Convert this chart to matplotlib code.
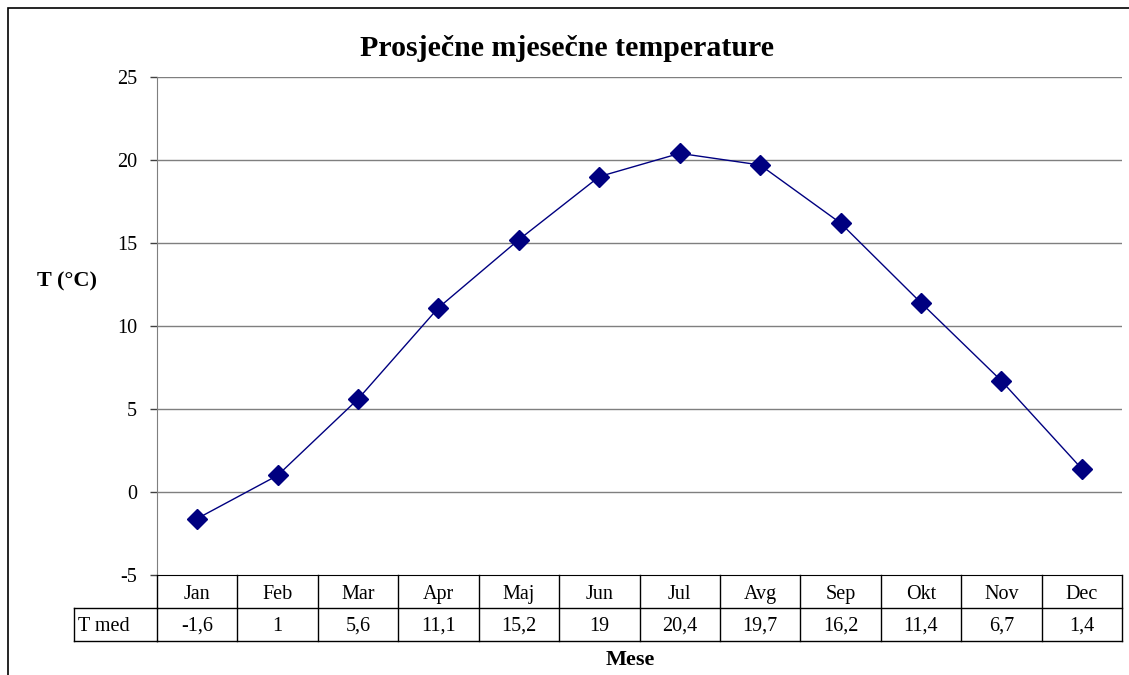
import matplotlib
matplotlib.use('Agg')
import matplotlib.pyplot as plt
from matplotlib.patches import Rectangle
from matplotlib.transforms import blended_transform_factory

months = ['Jan', 'Feb', 'Mar', 'Apr', 'Maj', 'Jun', 'Jul', 'Avg', 'Sep', 'Okt', 'Nov', 'Dec']
t_med = [-1.6, 1, 5.6, 11.1, 15.2, 19, 20.4, 19.7, 16.2, 11.4, 6.7, 1.4]
y_ticks = [-5, 0, 5, 10, 15, 20, 25]

plt.rcParams['font.family'] = ['Liberation Serif', 'DejaVu Serif']

W, H = 1129, 675
fig = plt.figure(figsize=(W / 100, H / 100), dpi=100)

# outer chart frame (only top and left edges are visible in the picture)
fig.patches.append(Rectangle((8 / W, -0.1), 1.2, 1.1 - 8 / H, transform=fig.transFigure,
                             fill=False, edgecolor='black', linewidth=1.2))

left, right, top, bottom = 157, 1122, 77, 575
ax = fig.add_axes([left / W, 1 - bottom / H, (right - left) / W, (bottom - top) / H])

x = list(range(len(months)))
ax.plot(x, t_med, color='#000080', linewidth=1, marker='D', markersize=10.5,
        markerfacecolor='#000080', markeredgecolor='#000080', zorder=3)

ax.set_xlim(-0.5, len(months) - 0.5)
ax.set_ylim(-5, 25)
ax.set_yticks(y_ticks)
ax.set_yticklabels([str(v) for v in y_ticks], fontsize=14.5)
ax.set_xticks([])
ax.tick_params(axis='y', length=5, width=1, color='#404040', pad=9.5)
for v in y_ticks[1:]:
    ax.axhline(v, color='#7f7f7f', linewidth=1, zorder=1)
for s in ['top', 'right']:
    ax.spines[s].set_visible(False)
ax.spines['left'].set_color('#7f7f7f')
ax.spines['bottom'].set_color('black')

# data table under the plot
ph = bottom - top
row1 = -(577 - bottom) / ph
row2 = -(608 - bottom) / ph
row3 = -(641 - bottom) / ph
trans = blended_transform_factory(ax.transData, ax.transAxes)
n = len(months)
lk = dict(color='black', linewidth=1, clip_on=False)
for i in range(n + 1):
    ax.plot([i - 0.5, i - 0.5], [0, row3], transform=trans, **lk)
ax.plot([-0.5, n - 0.5], [row2, row2], transform=trans, **lk)
ax.plot([-0.5, n - 0.5], [row3, row3], transform=trans, **lk)
lab_x = (74 - left) / (right - left)
ax.plot([lab_x, 0], [row2, row2], transform=ax.transAxes, **lk)
ax.plot([lab_x, 0], [row3, row3], transform=ax.transAxes, **lk)
ax.plot([lab_x, lab_x], [row2, row3], transform=ax.transAxes, **lk)
dy = -2 / ph
for i, (m, v) in enumerate(zip(months, t_med)):
    ax.text(i, (row1 + row2) / 2 + dy, m, transform=trans, ha='center', va='center', fontsize=14.5)
    ax.text(i, (row2 + row3) / 2 + dy, str(v).replace('.', ','), transform=trans,
            ha='center', va='center', fontsize=14.5)
ax.text(lab_x + 4 / (right - left), (row2 + row3) / 2 + dy, 'T med', transform=ax.transAxes,
        ha='left', va='center', fontsize=14.5)

fig.text(567 / W, 1 - 49 / H, 'Prosječne mjesečne temperature', ha='center', va='center',
         fontsize=21.5, fontweight='bold')
fig.text(67 / W, 1 - 281 / H, 'T (°C)', ha='center', va='center', fontsize=16, fontweight='bold')
fig.text(630 / W, 1 - 660 / H, 'Mese', ha='center', va='center', fontsize=16, fontweight='bold')

fig.savefig('out.png', dpi=100)
